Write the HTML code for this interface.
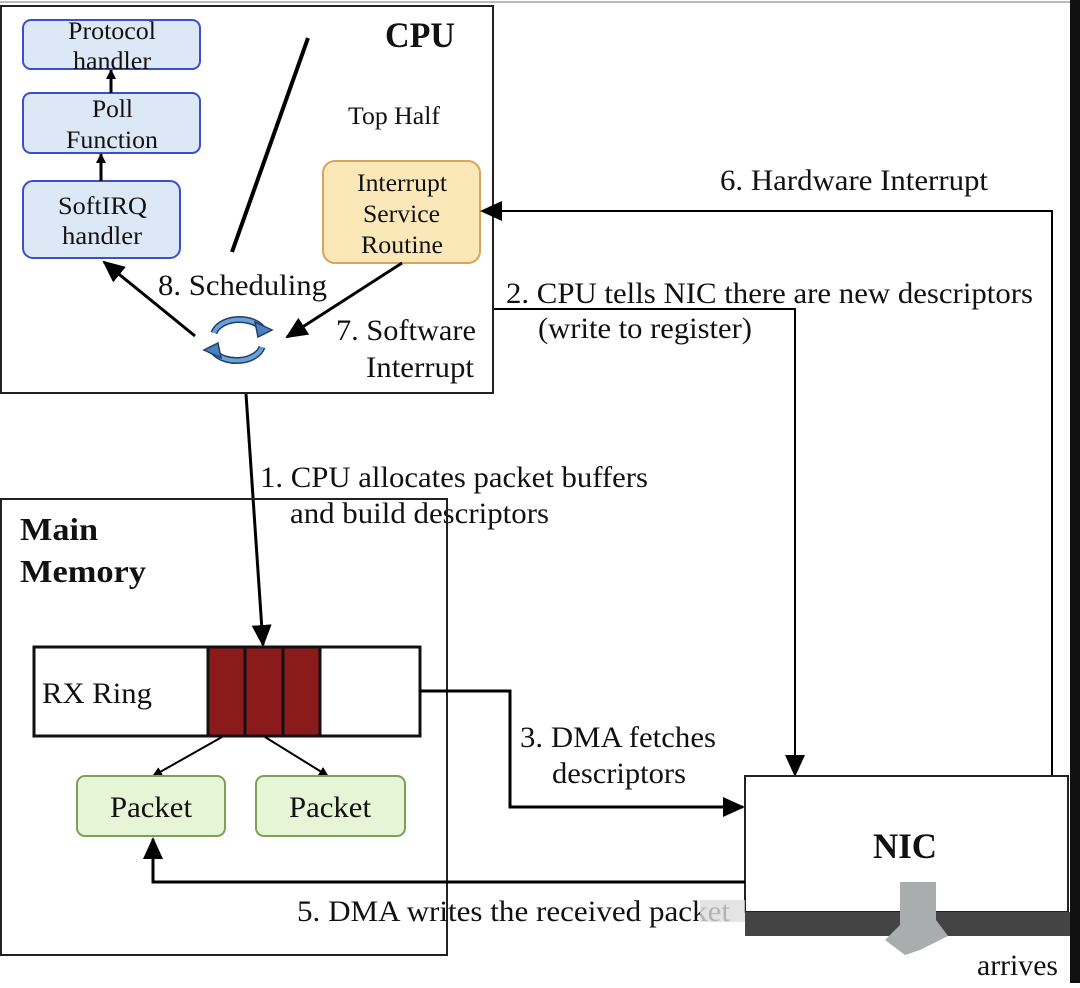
<!DOCTYPE html>
<html><head><style>
body{margin:0;background:#fff;}
svg text{font-family:"Liberation Serif",serif;fill:#111;}
</style></head><body>
<svg width="1080" height="983" viewBox="0 0 1080 983" xmlns="http://www.w3.org/2000/svg">
<defs>
<marker id="a" markerWidth="10" markerHeight="10" refX="9" refY="5" orient="auto" markerUnits="userSpaceOnUse"><path d="M0,0 L10,5 L0,10 z" fill="#000"/></marker>
<marker id="b" markerWidth="22" markerHeight="20" refX="20" refY="10" orient="auto" markerUnits="userSpaceOnUse"><path d="M0,0 L22,10 L0,20 z" fill="#000"/></marker>
</defs>
<line x1="0" y1="2" x2="1070" y2="2" stroke="#bbb" stroke-width="2"/>
<rect x="1070" y="0" width="10" height="983" fill="#111"/>
<!-- CPU -->
<rect x="1" y="6" width="492" height="387" fill="none" stroke="#222" stroke-width="2"/>
<text x="385" y="47" font-size="36" font-weight="bold" textLength="70" lengthAdjust="spacingAndGlyphs">CPU</text>
<rect x="23" y="20" width="177" height="49" rx="8" fill="#dde8f6" stroke="#3b4fcc" stroke-width="2"/>
<text x="68" y="39" font-size="25" textLength="88" lengthAdjust="spacingAndGlyphs">Protocol</text>
<text x="73" y="69" font-size="25" textLength="78" lengthAdjust="spacingAndGlyphs">handler</text>
<rect x="23" y="93" width="177" height="60" rx="8" fill="#dde8f6" stroke="#3b4fcc" stroke-width="2"/>
<text x="92" y="117" font-size="25" textLength="41" lengthAdjust="spacingAndGlyphs">Poll</text>
<text x="66" y="148" font-size="25" textLength="92" lengthAdjust="spacingAndGlyphs">Function</text>
<rect x="23" y="181" width="157" height="77" rx="10" fill="#dde8f6" stroke="#3b4fcc" stroke-width="2"/>
<text x="58" y="214" font-size="25" textLength="89" lengthAdjust="spacingAndGlyphs">SoftIRQ</text>
<text x="62" y="244" font-size="25" textLength="80" lengthAdjust="spacingAndGlyphs">handler</text>
<line x1="111" y1="93" x2="111" y2="70" stroke="#000" stroke-width="3" marker-end="url(#a)"/>
<line x1="101" y1="181" x2="101" y2="154" stroke="#000" stroke-width="3" marker-end="url(#a)"/>
<line x1="308" y1="38" x2="232" y2="252" stroke="#000" stroke-width="4"/>
<text x="348" y="124" font-size="25" textLength="92" lengthAdjust="spacingAndGlyphs">Top Half</text>
<rect x="323" y="161" width="157" height="102" rx="12" fill="#fbe8b8" stroke="#d8a55a" stroke-width="2"/>
<text x="357" y="191" font-size="25" textLength="90" lengthAdjust="spacingAndGlyphs">Interrupt</text>
<text x="363" y="222" font-size="25" textLength="77" lengthAdjust="spacingAndGlyphs">Service</text>
<text x="361" y="253" font-size="25" textLength="82" lengthAdjust="spacingAndGlyphs">Routine</text>
<text x="158" y="295" font-size="30" textLength="169" lengthAdjust="spacingAndGlyphs">8. Scheduling</text>
<line x1="195" y1="336" x2="104" y2="262" stroke="#000" stroke-width="3" marker-end="url(#b)"/>
<line x1="402" y1="263" x2="287" y2="337" stroke="#000" stroke-width="3" marker-end="url(#b)"/>
<path d="M214,333 A26,17 0 0 1 262,328" fill="none" stroke="#1f3f66" stroke-width="7"/>
<path d="M214,333 A26,17 0 0 1 262,328" fill="none" stroke="#6aa0d8" stroke-width="4"/>
<path d="M255,322 L272,330 L258,337 z" fill="#4a80c0" stroke="#1f3f66" stroke-width="1.5"/>
<path d="M262,347 A26,17 0 0 1 214,352" fill="none" stroke="#1f3f66" stroke-width="7"/>
<path d="M262,347 A26,17 0 0 1 214,352" fill="none" stroke="#6aa0d8" stroke-width="4"/>
<path d="M221,358 L204,350 L218,343 z" fill="#4a80c0" stroke="#1f3f66" stroke-width="1.5"/>
<text x="336" y="340" font-size="30" textLength="140" lengthAdjust="spacingAndGlyphs">7. Software</text>
<text x="366" y="377" font-size="30" textLength="108" lengthAdjust="spacingAndGlyphs">Interrupt</text>
<!-- connectors -->
<polyline points="1052,787 1052,211 482,211" fill="none" stroke="#000" stroke-width="2" marker-end="url(#b)"/>
<text x="720" y="190" font-size="30" textLength="268" lengthAdjust="spacingAndGlyphs">6. Hardware Interrupt</text>
<polyline points="494,309 795,309 795,775" fill="none" stroke="#000" stroke-width="2" marker-end="url(#b)"/>
<text x="506" y="303" font-size="30" textLength="527" lengthAdjust="spacingAndGlyphs">2. CPU tells NIC there are new descriptors</text>
<text x="538" y="338" font-size="30" textLength="214" lengthAdjust="spacingAndGlyphs">(write to register)</text>
<line x1="246" y1="394" x2="263" y2="645" stroke="#000" stroke-width="3" marker-end="url(#b)"/>
<text x="260" y="487" font-size="30" textLength="388" lengthAdjust="spacingAndGlyphs">1. CPU allocates packet buffers</text>
<text x="290" y="523" font-size="30" textLength="259" lengthAdjust="spacingAndGlyphs">and build descriptors</text>
<!-- memory -->
<rect x="1" y="499" width="446" height="456" fill="none" stroke="#222" stroke-width="2"/>
<text x="20" y="540" font-size="32" font-weight="bold" textLength="78" lengthAdjust="spacingAndGlyphs">Main</text>
<text x="20" y="582" font-size="32" font-weight="bold" textLength="126" lengthAdjust="spacingAndGlyphs">Memory</text>
<rect x="34" y="647" width="386" height="89" fill="#fff" stroke="#111" stroke-width="3"/>
<rect x="208" y="647" width="112" height="89" fill="#8b1a1a" stroke="#111" stroke-width="3"/>
<line x1="245" y1="647" x2="245" y2="736" stroke="#111" stroke-width="3"/>
<line x1="283" y1="647" x2="283" y2="736" stroke="#111" stroke-width="3"/>
<text x="42" y="703" font-size="30" textLength="110" lengthAdjust="spacingAndGlyphs">RX Ring</text>
<line x1="222" y1="737" x2="153" y2="776" stroke="#000" stroke-width="2" marker-end="url(#a)"/>
<line x1="265" y1="737" x2="328" y2="776" stroke="#000" stroke-width="2" marker-end="url(#a)"/>
<rect x="77" y="776" width="148" height="60" rx="8" fill="#e5f5d5" stroke="#7aa05a" stroke-width="2"/>
<text x="110" y="817" font-size="30" textLength="82" lengthAdjust="spacingAndGlyphs">Packet</text>
<rect x="256" y="776" width="149" height="60" rx="8" fill="#e5f5d5" stroke="#7aa05a" stroke-width="2"/>
<text x="289" y="817" font-size="30" textLength="82" lengthAdjust="spacingAndGlyphs">Packet</text>
<polyline points="420,691 510,691 510,807 743,807" fill="none" stroke="#000" stroke-width="3" marker-end="url(#b)"/>
<text x="520" y="747" font-size="30" textLength="196" lengthAdjust="spacingAndGlyphs">3. DMA fetches</text>
<text x="552" y="783" font-size="30" textLength="134" lengthAdjust="spacingAndGlyphs">descriptors</text>
<!-- NIC -->
<rect x="745" y="776" width="323" height="136" fill="#fff" stroke="#222" stroke-width="2"/>
<rect x="745" y="912" width="325" height="24" fill="#444"/>
<path d="M900,882 L936,882 L936,920 L948,936 L920,950 L905,955 L885,940 L900,925 z" fill="#a9adad"/>
<text x="873" y="858" font-size="36" font-weight="bold" textLength="64" lengthAdjust="spacingAndGlyphs">NIC</text>
<polyline points="745,882 153,882 153,839" fill="none" stroke="#000" stroke-width="3" marker-end="url(#b)"/>
<text x="297" y="921" font-size="30" textLength="433" lengthAdjust="spacingAndGlyphs">5. DMA writes the received packet</text>
<rect x="700" y="900" width="45" height="22" fill="#ddd" opacity="0.8"/>
<text x="977" y="975" font-size="30" textLength="81" lengthAdjust="spacingAndGlyphs">arrives</text>
</svg>
</body></html>
